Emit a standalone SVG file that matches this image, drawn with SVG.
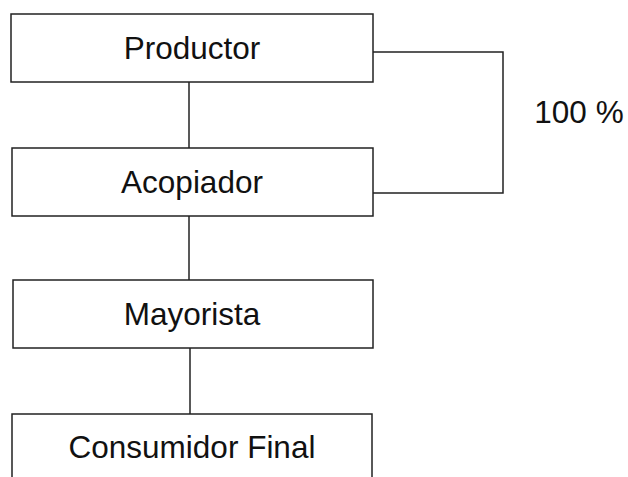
<svg xmlns="http://www.w3.org/2000/svg" width="628" height="477" viewBox="0 0 628 477">
<style>
.box{fill:#fff;stroke:#222;stroke-width:1.5}
.lbl{font-family:"Liberation Sans",Arial,sans-serif;font-size:31.5px;fill:#111;text-anchor:middle}
.con{fill:none;stroke:#222;stroke-width:1.5}
</style>
<rect width="628" height="477" fill="#fff"/>
<g id="connectors">
<line class="con" x1="189" y1="82" x2="189" y2="148"/>
<line class="con" x1="189" y1="216" x2="189" y2="280"/>
<line class="con" x1="190" y1="348" x2="190" y2="414"/>
<polyline class="con" points="373,52 503,52 503,193 373,193"/>
<text class="lbl" x="579" y="123">100 %</text>
</g>
<g id="productor"><rect class="box" x="11" y="14" width="362" height="68"/><text class="lbl" x="192" y="59">Productor</text></g>
<g id="acopiador"><rect class="box" x="12" y="148" width="361" height="68"/><text class="lbl" x="192" y="193">Acopiador</text></g>
<g id="mayorista"><rect class="box" x="13" y="280" width="360" height="68"/><text class="lbl" x="192" y="325">Mayorista</text></g>
<g id="consumidor"><rect class="box" x="12" y="414" width="360" height="70"/><text class="lbl" x="192" y="458">Consumidor Final</text></g>
</svg>
